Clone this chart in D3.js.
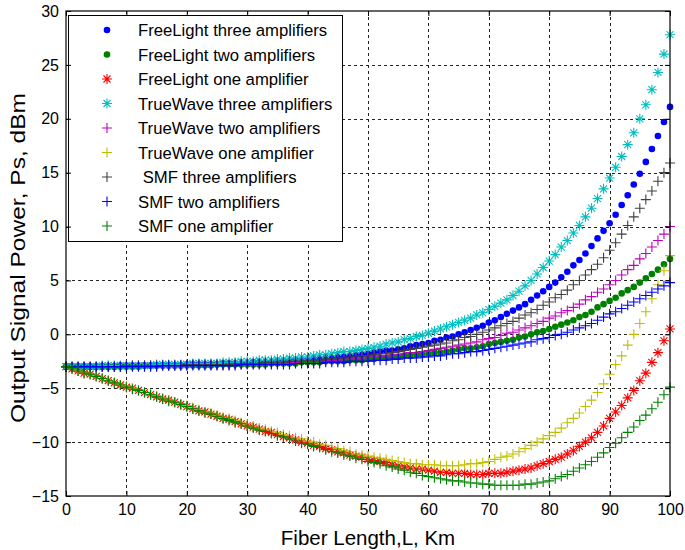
<!DOCTYPE html>
<html>
<head>
<meta charset="utf-8">
<script src="https://cdn.jsdelivr.net/npm/d3@7"></script>
<style>
  body { margin: 0; background: #fff; }
  svg text { font-family: "Liberation Sans", Arial, Helvetica, sans-serif; fill: #000; }
</style>
</head>
<body>
<svg id="chart" width="685" height="550"></svg>
<script>
// fiber length samples, km
var fiberLength = [0,1,2,3,4,5,6,7,8,9,10,11,12,13,14,15,16,17,18,19,20,21,22,23,24,25,26,27,28,29,30,
  31,32,33,34,35,36,37,38,39,40,41,42,43,44,45,46,47,48,49,50,51,52,53,54,55,56,57,58,59,60,
  61,62,63,64,65,66,67,68,69,70,71,72,73,74,75,76,77,78,79,80,81,82,83,84,85,86,87,88,89,90,
  91,92,93,94,95,96,97,98,99,100];

// output signal power, dBm
var freeLight3 = [-3.0,-3.0,-3.0,-3.0,-3.0,-3.0,-3.0,-3.0,-3.0,-2.9,-2.9,
  -2.9,-2.9,-2.9,-2.9,-2.9,-2.9,-2.9,-2.9,-2.9,-2.8,
  -2.8,-2.8,-2.8,-2.8,-2.8,-2.7,-2.7,-2.7,-2.7,-2.7,
  -2.6,-2.6,-2.6,-2.6,-2.5,-2.5,-2.5,-2.4,-2.4,-2.4,
  -2.3,-2.3,-2.2,-2.2,-2.1,-2.1,-2.0,-1.9,-1.9,-1.8,
  -1.7,-1.6,-1.5,-1.5,-1.4,-1.3,-1.1,-1.0,-0.9,-0.8,
  -0.6,-0.5,-0.3,-0.2,0.0,0.2,0.4,0.6,0.8,1.1,
  1.3,1.6,1.9,2.2,2.5,2.8,3.2,3.6,4.0,4.4,
  4.8,5.3,5.8,6.4,6.9,7.5,8.2,8.9,9.6,10.3,
  11.1,12.0,12.9,13.9,14.9,16.0,17.2,18.4,19.7,21.1];

var freeLight2 = [-3.0,-3.0,-3.0,-3.0,-3.0,-3.0,-3.0,-3.0,-3.0,-3.0,-3.0,
  -3.0,-3.0,-2.9,-2.9,-2.9,-2.9,-2.9,-2.9,-2.9,-2.9,
  -2.9,-2.9,-2.9,-2.9,-2.8,-2.8,-2.8,-2.8,-2.8,-2.8,
  -2.8,-2.8,-2.8,-2.7,-2.7,-2.7,-2.7,-2.7,-2.6,-2.6,
  -2.6,-2.6,-2.5,-2.5,-2.5,-2.5,-2.4,-2.4,-2.4,-2.3,
  -2.3,-2.2,-2.2,-2.1,-2.1,-2.0,-2.0,-1.9,-1.9,-1.8,
  -1.7,-1.7,-1.6,-1.5,-1.4,-1.3,-1.3,-1.2,-1.1,-0.9,
  -0.8,-0.7,-0.6,-0.5,-0.3,-0.2,0.0,0.2,0.3,0.5,
  0.7,0.9,1.1,1.3,1.6,1.8,2.1,2.5,2.8,3.1,
  3.4,3.8,4.1,4.4,4.8,5.2,5.6,6.0,6.5,7.0];

var freeLight1 = [-3.0,-3.2,-3.4,-3.6,-3.7,-3.9,-4.1,-4.3,-4.5,-4.7,-4.9,
  -5.0,-5.2,-5.4,-5.6,-5.8,-6.0,-6.1,-6.3,-6.5,-6.7,
  -6.9,-7.1,-7.2,-7.4,-7.6,-7.8,-7.9,-8.1,-8.3,-8.5,
  -8.6,-8.8,-9.0,-9.1,-9.3,-9.5,-9.6,-9.8,-10.0,-10.1,
  -10.3,-10.4,-10.6,-10.7,-10.9,-11.0,-11.2,-11.3,-11.4,-11.6,
  -11.7,-11.8,-11.9,-12.1,-12.2,-12.3,-12.4,-12.5,-12.5,-12.6,
  -12.7,-12.8,-12.8,-12.9,-12.9,-12.9,-13.0,-13.0,-13.0,-12.9,
  -12.9,-12.9,-12.8,-12.7,-12.6,-12.5,-12.4,-12.2,-12.0,-11.8,
  -11.6,-11.4,-11.1,-10.8,-10.4,-10.0,-9.6,-9.1,-8.5,-7.8,
  -7.2,-6.6,-5.9,-5.2,-4.3,-3.6,-2.6,-1.7,-0.6,0.5];

var trueWave3 = [-3.0,-3.0,-3.0,-3.0,-3.0,-3.0,-2.9,-2.9,-2.9,-2.9,-2.9,
  -2.9,-2.9,-2.9,-2.9,-2.8,-2.8,-2.8,-2.8,-2.8,-2.8,
  -2.7,-2.7,-2.7,-2.7,-2.7,-2.6,-2.6,-2.6,-2.5,-2.5,
  -2.5,-2.4,-2.4,-2.4,-2.3,-2.3,-2.2,-2.2,-2.1,-2.1,
  -2.0,-1.9,-1.9,-1.8,-1.7,-1.6,-1.6,-1.5,-1.4,-1.3,
  -1.2,-1.1,-0.9,-0.8,-0.7,-0.5,-0.4,-0.2,-0.1,0.1,
  0.3,0.5,0.7,0.9,1.1,1.3,1.5,1.8,2.0,2.3,
  2.6,2.9,3.2,3.6,4.0,4.5,5.0,5.6,6.2,6.8,
  7.4,8.1,8.7,9.4,10.1,10.9,11.7,12.6,13.5,14.5,
  15.5,16.5,17.6,18.7,20.0,21.3,22.7,24.3,26.0,27.8];

var trueWave2 = [-3.0,-3.0,-3.0,-3.0,-3.0,-3.0,-3.0,-3.0,-3.0,-3.0,-2.9,
  -2.9,-2.9,-2.9,-2.9,-2.9,-2.9,-2.9,-2.9,-2.9,-2.9,
  -2.8,-2.8,-2.8,-2.8,-2.8,-2.8,-2.8,-2.8,-2.8,-2.7,
  -2.7,-2.7,-2.7,-2.7,-2.7,-2.6,-2.6,-2.6,-2.5,-2.5,
  -2.5,-2.5,-2.4,-2.4,-2.4,-2.3,-2.3,-2.2,-2.2,-2.1,
  -2.1,-2.0,-2.0,-1.9,-1.9,-1.8,-1.7,-1.7,-1.6,-1.5,
  -1.4,-1.3,-1.2,-1.1,-1.0,-0.9,-0.8,-0.7,-0.5,-0.4,
  -0.3,-0.1,0.1,0.2,0.4,0.6,0.8,1.0,1.2,1.5,
  1.7,2.0,2.2,2.5,2.8,3.2,3.5,3.9,4.2,4.6,
  5.0,5.5,6.0,6.4,7.0,7.5,8.1,8.7,9.3,10.0];

var trueWave1 = [-3.0,-3.2,-3.4,-3.6,-3.7,-3.9,-4.1,-4.3,-4.5,-4.7,-4.8,
  -5.0,-5.2,-5.4,-5.6,-5.7,-5.9,-6.1,-6.3,-6.5,-6.6,
  -6.8,-7.0,-7.2,-7.3,-7.5,-7.7,-7.8,-8.0,-8.2,-8.3,
  -8.5,-8.7,-8.8,-9.0,-9.1,-9.3,-9.4,-9.6,-9.7,-9.9,
  -10.0,-10.2,-10.3,-10.5,-10.6,-10.8,-10.9,-11.1,-11.2,-11.3,
  -11.4,-11.5,-11.6,-11.7,-11.8,-11.9,-12.0,-12.0,-12.1,-12.1,
  -12.1,-12.2,-12.2,-12.2,-12.2,-12.1,-12.0,-12.0,-11.9,-11.8,
  -11.6,-11.4,-11.3,-11.1,-10.9,-10.6,-10.3,-10.0,-9.7,-9.4,
  -9.1,-8.7,-8.2,-7.8,-7.3,-6.7,-6.1,-5.4,-4.6,-3.7,
  -2.8,-2.0,-1.0,0.0,1.0,2.1,3.3,4.6,5.9,7.3];

var smfThree = [-3.0,-3.0,-3.0,-3.0,-3.0,-3.0,-3.0,-3.0,-3.0,-3.0,-2.9,
  -2.9,-2.9,-2.9,-2.9,-2.9,-2.9,-2.9,-2.9,-2.9,-2.8,
  -2.8,-2.8,-2.8,-2.8,-2.8,-2.8,-2.8,-2.7,-2.7,-2.7,
  -2.7,-2.7,-2.6,-2.6,-2.6,-2.6,-2.5,-2.5,-2.5,-2.4,
  -2.4,-2.4,-2.3,-2.3,-2.2,-2.2,-2.1,-2.1,-2.0,-2.0,
  -1.9,-1.8,-1.8,-1.7,-1.6,-1.5,-1.4,-1.3,-1.2,-1.1,
  -1.0,-0.9,-0.8,-0.6,-0.5,-0.3,-0.2,0.0,0.2,0.4,
  0.6,0.8,1.0,1.2,1.5,1.8,2.0,2.3,2.7,3.0,
  3.4,3.7,4.1,4.6,5.0,5.5,6.0,6.5,7.1,7.8,
  8.5,9.3,10.1,10.9,11.7,12.5,13.3,14.2,15.0,15.9];

var smfTwo = [-3.0,-3.0,-3.0,-3.0,-3.0,-3.0,-3.0,-3.0,-3.0,-3.0,-3.0,
  -3.0,-3.0,-3.0,-3.0,-3.0,-2.9,-2.9,-2.9,-2.9,-2.9,
  -2.9,-2.9,-2.9,-2.9,-2.9,-2.9,-2.9,-2.9,-2.8,-2.8,
  -2.8,-2.8,-2.8,-2.8,-2.8,-2.8,-2.8,-2.7,-2.7,-2.7,
  -2.7,-2.7,-2.6,-2.6,-2.6,-2.6,-2.5,-2.5,-2.5,-2.5,
  -2.4,-2.4,-2.4,-2.3,-2.3,-2.2,-2.2,-2.2,-2.1,-2.1,
  -2.0,-2.0,-1.9,-1.8,-1.8,-1.7,-1.6,-1.6,-1.5,-1.4,
  -1.3,-1.2,-1.1,-1.0,-0.9,-0.8,-0.7,-0.5,-0.4,-0.3,
  -0.1,0.0,0.2,0.4,0.6,0.8,1.0,1.3,1.6,1.9,
  2.1,2.4,2.7,3.0,3.3,3.6,3.9,4.2,4.5,4.8];

var smfOne = [-3.0,-3.2,-3.4,-3.6,-3.7,-3.9,-4.1,-4.3,-4.5,-4.7,-4.9,
  -5.1,-5.2,-5.4,-5.6,-5.8,-6.0,-6.2,-6.3,-6.5,-6.7,
  -6.9,-7.1,-7.3,-7.4,-7.6,-7.8,-8.0,-8.2,-8.3,-8.5,
  -8.7,-8.9,-9.0,-9.2,-9.4,-9.5,-9.7,-9.9,-10.1,-10.2,
  -10.4,-10.5,-10.7,-10.9,-11.0,-11.2,-11.3,-11.5,-11.6,-11.8,
  -11.9,-12.0,-12.2,-12.3,-12.5,-12.6,-12.8,-12.9,-13.1,-13.2,
  -13.3,-13.4,-13.5,-13.6,-13.6,-13.7,-13.8,-13.8,-13.9,-13.9,
  -14.0,-14.0,-14.0,-14.0,-14.0,-13.9,-13.9,-13.8,-13.7,-13.6,
  -13.4,-13.2,-13.0,-12.7,-12.4,-12.1,-11.8,-11.4,-11.0,-10.5,
  -10.1,-9.6,-9.1,-8.6,-8.0,-7.5,-6.9,-6.3,-5.6,-4.9];

var xTicks = [0,10,20,30,40,50,60,70,80,90,100];
var yTicks = [-15,-10,-5,0,5,10,15,20,25,30];

var seriesNames = ['FreeLight three amplifiers', 'FreeLight two amplifiers', 'FreeLight one amplifier',
  'TrueWave three amplifiers', 'TrueWave two amplifiers', 'TrueWave one amplifier',
  ' SMF three amplifiers', 'SMF two amplifiers', 'SMF one amplifier'];
var seriesValues = [freeLight3, freeLight2, freeLight1, trueWave3, trueWave2, trueWave1, smfThree, smfTwo, smfOne];
var seriesColors = ['#0000ff', '#008000', '#ff0000', '#00bfbf', '#bf00bf', '#bfbf00', '#404040', '#0000ff', '#008000'];
var seriesMarkers = ['dot', 'dot', 'star', 'star', 'plus', 'plus', 'plus', 'plus', 'plus'];

var svg = d3.select('#chart');

// plot box edges (not "top": that name is taken by window.top)
var plotLeft = 66, plotRight = 670, plotTop = 11, plotBottom = 496;

var x = d3.scaleLinear().domain([0, 100]).range([plotLeft, plotRight]);
var y = d3.scaleLinear().domain([-15, 30]).range([plotBottom, plotTop]);

svg.append('rect').attr('width', 685).attr('height', 550).attr('fill', '#fff');

// dotted grid
var grid = svg.append('g').attr('stroke', '#222').attr('stroke-width', 1).attr('stroke-dasharray', '3,3');
grid.selectAll('.gx').data(xTicks.slice(1, -1)).enter().append('line')
  .attr('x1', function (d) { return Math.round(x(d)) + 0.5; })
  .attr('x2', function (d) { return Math.round(x(d)) + 0.5; })
  .attr('y1', plotTop).attr('y2', plotBottom);
grid.selectAll('.gy').data(yTicks.slice(1, -1)).enter().append('line')
  .attr('y1', function (d) { return Math.round(y(d)) + 0.5; })
  .attr('y2', function (d) { return Math.round(y(d)) + 0.5; })
  .attr('x1', plotLeft).attr('x2', plotRight);

function markerPath(kind) {
  if (kind === 'plus') return 'M-5,0H5M0,-5V5';
  return 'M-5,0H5M0,-5V5M-3.5,-3.5L3.5,3.5M-3.5,3.5L3.5,-3.5';
}

function drawMarkers(g, pts, kind, color) {
  if (kind === 'dot') {
    g.selectAll('circle').data(pts).enter().append('circle')
      .attr('cx', function (d) { return d[0]; })
      .attr('cy', function (d) { return d[1]; })
      .attr('r', 3.3)
      .attr('fill', color);
  } else {
    g.selectAll('path').data(pts).enter().append('path')
      .attr('transform', function (d) { return 'translate(' + d[0] + ',' + d[1] + ')'; })
      .attr('d', markerPath(kind))
      .attr('fill', 'none')
      .attr('stroke', color)
      .attr('stroke-width', 1.1);
  }
}

// series, drawn in legend order so the last one sits on top
seriesValues.forEach(function (vals, i) {
  var pts = fiberLength.map(function (d, j) { return [x(d), y(vals[j])]; });
  drawMarkers(svg.append('g'), pts, seriesMarkers[i], seriesColors[i]);
});

// legend
var legend = svg.append('g');
legend.append('rect').attr('x', 68.5).attr('y', 15.5).attr('width', 274).attr('height', 226)
  .attr('fill', '#fff').attr('stroke', '#000').attr('stroke-width', 1);
seriesNames.forEach(function (name, i) {
  var cy = 30 + i * 24.5;
  drawMarkers(legend.append('g'), [[107, cy]], seriesMarkers[i], seriesColors[i]);
  legend.append('text')
    .attr('x', 138).attr('y', cy).attr('dy', '0.36em')
    .attr('font-size', 16.7)
    .style('white-space', 'pre')
    .text(name);
});

// axes box and inside ticks on all four sides
svg.append('rect').attr('x', plotLeft).attr('y', plotTop)
  .attr('width', plotRight - plotLeft).attr('height', plotBottom - plotTop)
  .attr('fill', 'none').attr('stroke', '#000').attr('stroke-width', 1.2);

svg.append('g').attr('transform', 'translate(0,' + plotBottom + ')')
  .call(d3.axisBottom(x).tickValues(xTicks).tickSize(-5).tickSizeOuter(0).tickPadding(8));
svg.append('g').attr('transform', 'translate(' + plotLeft + ',0)')
  .call(d3.axisLeft(y).tickValues(yTicks).tickSize(-5).tickSizeOuter(0).tickPadding(7));
svg.append('g').attr('transform', 'translate(0,' + plotTop + ')')
  .call(d3.axisTop(x).tickValues(xTicks).tickSize(-5).tickSizeOuter(0).tickFormat(''));
svg.append('g').attr('transform', 'translate(' + plotRight + ',0)')
  .call(d3.axisRight(y).tickValues(yTicks).tickSize(-5).tickSizeOuter(0).tickFormat(''));

svg.selectAll('.domain').remove();
svg.selectAll('.tick line').attr('stroke', '#000');
svg.selectAll('.tick text').attr('font-size', 16).attr('font-family', '"Liberation Sans", Arial, sans-serif').attr('fill', '#000');

// axis titles
svg.append('text')
  .attr('x', (plotLeft + plotRight) / 2).attr('y', 545)
  .attr('text-anchor', 'middle').attr('font-size', 20.5)
  .text('Fiber Length,L, Km');

svg.append('text')
  .attr('transform', 'translate(25,258) rotate(-90)')
  .attr('text-anchor', 'middle').attr('font-size', 21)
  .attr('textLength', 330).attr('lengthAdjust', 'spacingAndGlyphs')
  .text('Output Signal Power, Ps, dBm');
</script>
</body>
</html>
